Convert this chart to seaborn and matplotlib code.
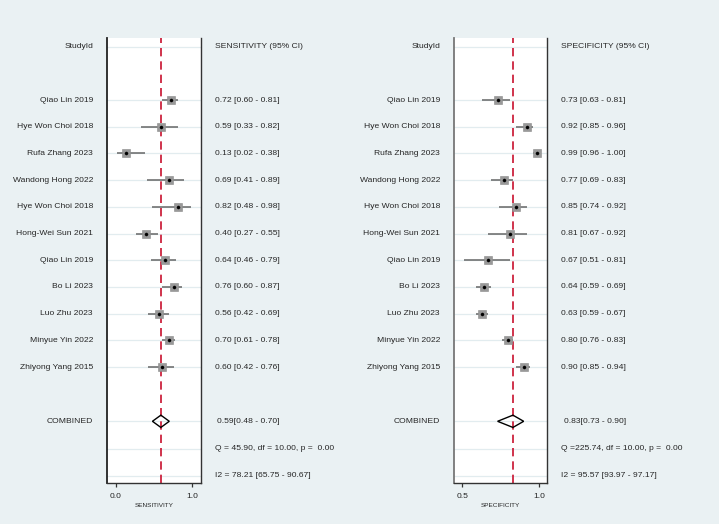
import matplotlib
matplotlib.use("Agg")
import matplotlib.pyplot as plt
import matplotlib.transforms as mtransforms
from matplotlib.patches import Polygon
import seaborn as sns
import pandas as pd

# ---------------- data ----------------
studies = ["Qiao Lin 2019", "Hye Won Choi 2018", "Rufa Zhang 2023", "Wandong Hong 2022",
           "Hye Won Choi 2018", "Hong-Wei Sun 2021", "Qiao Lin 2019", "Bo Li 2023",
           "Luo Zhu 2023", "Minyue Yin 2022", "Zhiyong Yang 2015"]
sens = [0.72, 0.59, 0.13, 0.69, 0.82, 0.40, 0.64, 0.76, 0.56, 0.70, 0.60]
sens_lo = [0.60, 0.33, 0.02, 0.41, 0.48, 0.27, 0.46, 0.60, 0.42, 0.61, 0.42]
sens_hi = [0.81, 0.82, 0.38, 0.89, 0.98, 0.55, 0.79, 0.87, 0.69, 0.78, 0.76]
spec = [0.73, 0.92, 0.99, 0.77, 0.85, 0.81, 0.67, 0.64, 0.63, 0.80, 0.90]
spec_lo = [0.63, 0.85, 0.96, 0.69, 0.74, 0.67, 0.51, 0.59, 0.59, 0.76, 0.85]
spec_hi = [0.81, 0.96, 1.00, 0.83, 0.92, 0.92, 0.81, 0.69, 0.67, 0.83, 0.94]

sens_pooled = [0.59, 0.48, 0.70]
spec_pooled = [0.83, 0.73, 0.90]
sens_het = "Q = 45.90, df = 10.00, p =  0.00"
sens_i2 = "I2 = 78.21 [65.75 - 90.67]"
spec_het = "Q =225.74, df = 10.00, p =  0.00"
spec_i2 = "I2 = 95.57 [93.97 - 97.17]"
sens_ticks = [0.0, 1.0]
spec_ticks = [0.5, 1.0]
sens_ticklabels = ["0.0", "1.0"]
spec_ticklabels = ["0.5", "1.0"]

# ---------------- style ----------------
sns.set_style("white")
plt.rcParams["font.family"] = ["Liberation Sans", "DejaVu Sans"]

BG = "#eaf1f3"
GRID = "#e2ecef"
fig = plt.figure(figsize=(7.19, 5.24), dpi=100, facecolor=BG)

W, H = 719.0, 524.0
top_px, bot_px = 38.0, 483.0
row0_px, row_step = 46.7, 26.7


def px2row(py):
    return (py - row0_px) / row_step


panels = [
    dict(name="SENSITIVITY", x0=107.0, x1=200.7, xlim=(-0.113, 1.11),
         est=sens, lo=sens_lo, hi=sens_hi, pooled=sens_pooled, het=sens_het, i2=sens_i2,
         ticks=sens_ticks, ticklabels=sens_ticklabels,
         name_x=93.0, val_x=215.0, comb_x=217.0, left_spine="#222222"),
    dict(name="SPECIFICITY", x0=453.7, x1=547.3, xlim=(0.444, 1.054),
         est=spec, lo=spec_lo, hi=spec_hi, pooled=spec_pooled, het=spec_het, i2=spec_i2,
         ticks=spec_ticks, ticklabels=spec_ticklabels,
         name_x=440.0, val_x=561.0, comb_x=563.5, left_spine="#777777"),
]

rows = [i + 2 for i in range(len(studies))]
row_comb, row_q, row_i2 = 14.03, 15.05, 16.07
FS = 6.1

for p in panels:
    ax = fig.add_axes([p["x0"] / W, 1 - bot_px / H, (p["x1"] - p["x0"]) / W, (bot_px - top_px) / H])
    ax.set_facecolor("white")
    ax.set_xlim(*p["xlim"])
    ax.set_ylim(px2row(bot_px), px2row(top_px))

    # light row lines
    for r in [0] + rows + [row_comb, row_q, row_i2]:
        ax.axhline(r, color=GRID, lw=0.9, zorder=0)

    # pooled reference line
    ax.axvline(p["pooled"][0], color="#c8102e", lw=1.2, ls=(0, (5, 3)), zorder=1)

    df = pd.DataFrame({"est": p["est"], "lo": p["lo"], "hi": p["hi"], "row": rows})
    ax.hlines(df["row"], df["lo"], df["hi"], color="#666666", lw=1.1, zorder=2)
    sns.scatterplot(data=df, x="est", y="row", marker="s", s=36, color="#999999",
                    edgecolor="#8a8a8a", linewidth=0.4, ax=ax, zorder=3, legend=False)
    sns.scatterplot(data=df, x="est", y="row", marker="o", s=5, color="black",
                    edgecolor="black", linewidth=0.3, ax=ax, zorder=4, legend=False)

    # pooled diamond
    e, l, h = p["pooled"]
    dh = 0.23
    ax.add_patch(Polygon([(l, row_comb), (e, row_comb - dh), (h, row_comb), (e, row_comb + dh)],
                         closed=True, facecolor="none", edgecolor="black", lw=1.0, zorder=5))

    # spines / ticks
    ax.spines["top"].set_visible(False)
    ax.spines["left"].set_color(p["left_spine"])
    ax.spines["left"].set_linewidth(1.3)
    ax.spines["right"].set_color("#333333")
    ax.spines["right"].set_linewidth(1.0)
    ax.spines["bottom"].set_color("#333333")
    ax.spines["bottom"].set_linewidth(1.0)
    ax.set_yticks([])
    ax.set_xticks(p["ticks"])
    ax.set_xticklabels(p["ticklabels"])
    ax.tick_params(axis="x", direction="out", length=3, width=0.9, color="#333333",
                   labelsize=FS, pad=4.2, bottom=True)
    ax.set_xlabel(p["name"], fontsize=4.6, labelpad=2.0)
    ax.set_ylabel("")

    tr = mtransforms.blended_transform_factory(fig.transFigure, ax.transData)
    nx, vx, cx = p["name_x"] / W, p["val_x"] / W, p["comb_x"] / W
    ax.text(nx, 0, "StudyId", transform=tr, ha="right", va="center", fontsize=FS)
    ax.text(vx, 0, p["name"] + " (95% CI)", transform=tr, ha="left", va="center", fontsize=FS)
    for s, est, lo, hi, r in zip(studies, p["est"], p["lo"], p["hi"], rows):
        ax.text(nx, r, s, transform=tr, ha="right", va="center", fontsize=FS, clip_on=False)
        ax.text(vx, r, f"{est:.2f} [{lo:.2f} - {hi:.2f}]", transform=tr, ha="left",
                va="center", fontsize=FS, clip_on=False)
    ax.text(nx, row_comb, "COMBINED", transform=tr, ha="right", va="center", fontsize=FS)
    ax.text(cx, row_comb, f"{e:.2f}[{l:.2f} - {h:.2f}]", transform=tr, ha="left",
            va="center", fontsize=FS)
    ax.text(vx, row_q, p["het"], transform=tr, ha="left", va="center", fontsize=FS)
    ax.text(vx, row_i2, p["i2"], transform=tr, ha="left", va="center", fontsize=FS)

fig.savefig("out.png", dpi=100, facecolor=BG)
